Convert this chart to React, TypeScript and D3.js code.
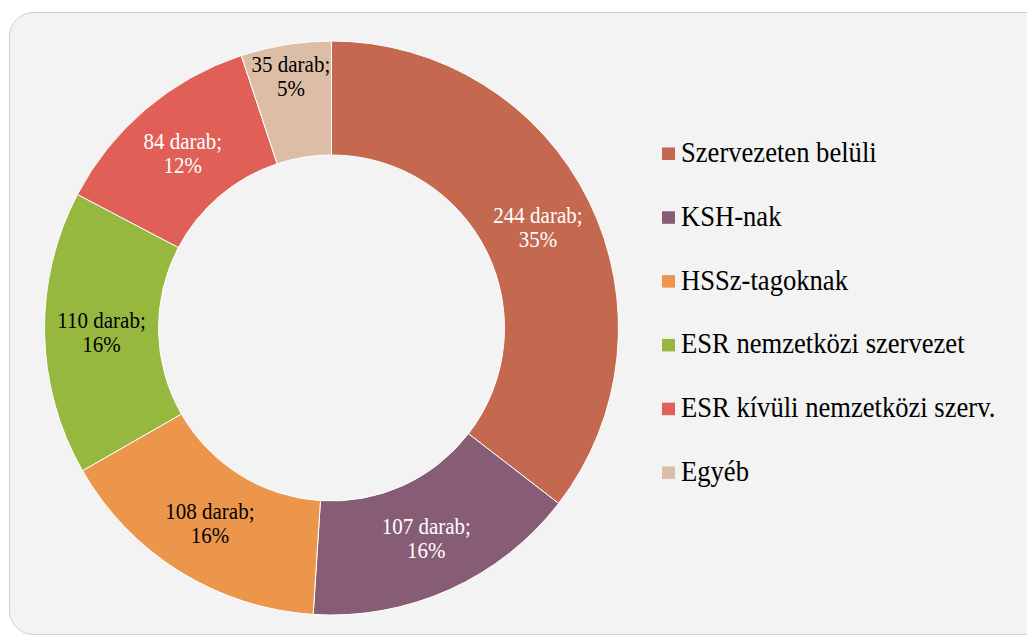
import React from "react";
import * as d3 from "d3";

const categories = [
  "Szervezeten belüli",
  "KSH-nak",
  "HSSz-tagoknak",
  "ESR nemzetközi szervezet",
  "ESR kívüli nemzetközi szerv.",
  "Egyéb",
];
const values = [244, 107, 108, 110, 84, 35];
const percents = ["35%", "16%", "16%", "16%", "12%", "5%"];
const colors = ["#c4694f", "#875c75", "#ec964b", "#97b83e", "#e05f56", "#dcbea6"];
const labelColors = ["#ffffff", "#ffffff", "#000000", "#000000", "#ffffff", "#000000"];
// label placement radius (fraction beyond mid-ring) for each slice
const labelRadiusExtra = [0, 0, 0, 0, 0, 25];

export default function App() {
  const W = 1027, H = 637;
  const cx = 331.5, cy = 328;
  const R = 287, r = 173;
  const pie = d3.pie<number>().sort(null).value((d) => d)(values);
  const arc = d3.arc<d3.PieArcDatum<number>>().innerRadius(r).outerRadius(R);
  const legendY = d3.scaleLinear().domain([0, categories.length - 1]).range([153.5, 472.5]);
  const font = "'Liberation Serif', 'Times New Roman', serif";
  const sy = 1.12;
  return (
    <svg width={W} height={H} style={{ position: "absolute", left: 0, top: 0 }}>
      <rect x={9.5} y={12.5} width={1060} height={622} rx={24} ry={24} fill="#f2f3f2" stroke="#d0d0d0" strokeWidth={1} />
      <g transform={`translate(${cx},${cy})`}>
        {pie.map((p, i) => (
          <path key={i} d={arc(p) || ""} fill={colors[i]} stroke="#ffffff" strokeWidth={1} />
        ))}
        {pie.map((p, i) => {
          const rr = (R + r) / 2 + labelRadiusExtra[i];
          const la = d3.arc<d3.PieArcDatum<number>>().innerRadius(rr).outerRadius(rr);
          const [lx, ly] = la.centroid(p);
          return (
            <g key={"l" + i}>
              <text transform={`translate(${lx},${ly - 4}) scale(1,${sy})`} textAnchor="middle" fontFamily={font} fontSize={21} fill={labelColors[i]}>
                {values[i]} darab;
              </text>
              <text transform={`translate(${lx},${ly + 20}) scale(1,${sy})`} textAnchor="middle" fontFamily={font} fontSize={21} fill={labelColors[i]}>
                {percents[i]}
              </text>
            </g>
          );
        })}
      </g>
      {categories.map((c, i) => (
        <g key={"g" + i} transform={`translate(662,${legendY(i)})`}>
          <rect x={0} y={-6} width={13} height={12.5} fill={colors[i]} />
          <text transform={`translate(19,8.5) scale(1,${sy})`} fontFamily={font} fontSize={26.6} fill="#000000">{c}</text>
        </g>
      ))}
    </svg>
  );
}
